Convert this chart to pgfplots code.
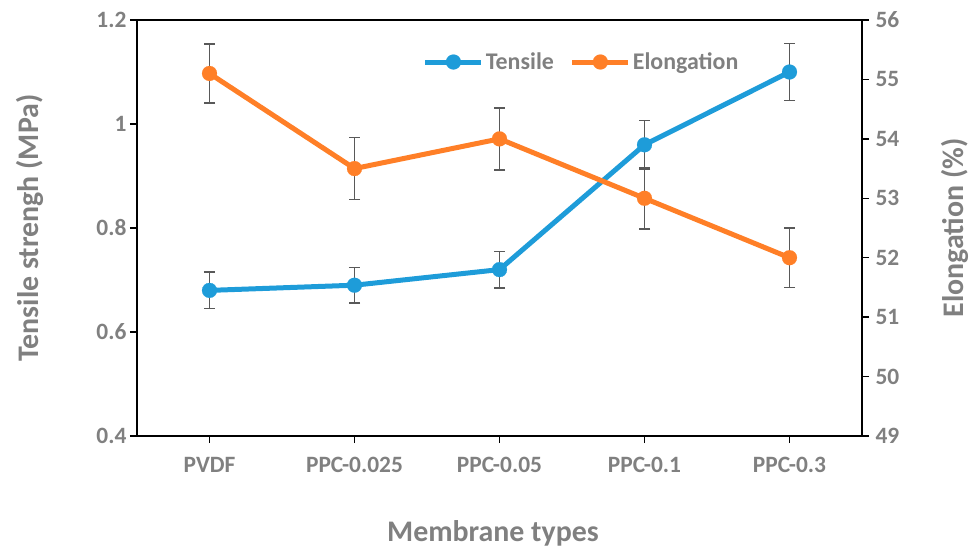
\documentclass[border=0pt]{standalone}
\usepackage{fontspec}
\setmainfont{Carlito}
\usepackage{pgfplots}
\pgfplotsset{compat=1.18}
\definecolor{tblue}{HTML}{1E9CD9}
\definecolor{torange}{HTML}{FF7F27}
\definecolor{tgray}{HTML}{808080}
\definecolor{egray}{HTML}{595959}
\begin{document}
\begin{tikzpicture}
\path[use as bounding box] (-137bp,-113bp) rectangle (836bp,436bp);
\pgfplotsset{
 common/.style={
  scale only axis, width=725bp, height=416bp,
  xmin=-0.5, xmax=4.5,
  xtick={0,1,2,3,4},
  tick align=outside,
  /pgf/number format/assume math mode=true,
  tick label style={font=\fontsize{23.5}{25}\selectfont\bfseries, text=tgray},
  label style={font=\fontsize{30}{32}\selectfont\bfseries, text=tgray},
  axis line style={line width=1.5bp, black},
  major tick length=7bp,
  every tick/.style={line width=1.5bp, black},
  clip=false,
 },
 series/.style={#1, line width=5bp, mark=*, mark size=7.5bp,
   mark options={solid, fill=#1, draw=#1, line width=0.1bp},
   error bars/.cd, y dir=both, y explicit,
   error bar style={egray, line width=1.5bp},
   error mark options={egray, rotate=90, mark size=5.5bp, line width=1.5bp}},
}
\begin{axis}[common,
  ymin=0.4, ymax=1.2, ytick={0.4,0.6,0.8,1,1.2},
  ytick pos=left, xtick pos=left,
  xticklabels={PVDF,PPC-0.025,PPC-0.05,PPC-0.1,PPC-0.3},
  xticklabel style={yshift=-11bp},
  xlabel={Membrane types},
  ylabel={Tensile strengh (MPa)},
  xlabel style={at={(axis description cs:0.491,-0.233)}, anchor=center},
  ylabel style={at={(axis description cs:-0.1476,0.5)}, anchor=center},
]
\addplot[series=tblue] coordinates {
 (0,0.68) +- (0,0.035)
 (1,0.69) +- (0,0.034)
 (2,0.72) +- (0,0.035)
 (3,0.96) +- (0,0.047)
 (4,1.10) +- (0,0.055)
};
\end{axis}
\begin{axis}[common,
  ymin=49, ymax=56, ytick={49,50,51,52,53,54,55,56},
  axis y line*=right, axis x line=none,
  yticklabel style={xshift=3bp},
  ylabel={Elongation (\%)},
  ylabel style={at={(axis description cs:1.128,0.5)}, anchor=center},
  legend columns=2,
  legend style={draw=none, fill=none, at={(axis description cs:0.39,0.899)}, anchor=west,
    font=\fontsize{24}{26}\selectfont\bfseries, text=tgray,
    /tikz/every even column/.append style={column sep=14bp}},
  legend image code/.code={\draw[mark repeat=2, mark phase=2, #1] plot coordinates {(0bp,0bp) (28bp,0bp) (56bp,0bp)};},
]
\addlegendimage{tblue, line width=5bp, mark=*, mark size=7.5bp, mark options={solid, fill=tblue, draw=tblue, line width=0.1bp}}
\addlegendentry{Tensile}
\addplot[series=torange] coordinates {
 (0,55.1) +- (0,0.5)
 (1,53.5) +- (0,0.52)
 (2,54.0) +- (0,0.52)
 (3,53.0) +- (0,0.52)
 (4,52.0) +- (0,0.5)
};
\addlegendentry{Elongation}
\end{axis}
\end{tikzpicture}
\end{document}
